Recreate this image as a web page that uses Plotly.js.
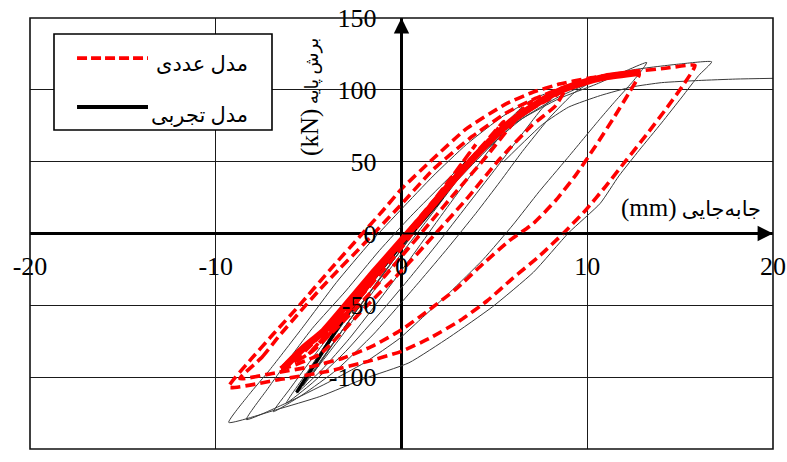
<!DOCTYPE html>
<html>
<head>
<meta charset="utf-8">
<script src="https://cdn.plot.ly/plotly-3.0.1.min.js"></script>
<style>html,body{margin:0;padding:0;background:#fff;}#chart{width:787px;height:462px;}</style>
</head>
<body>
<div id="chart"></div>
<script>
// ---- axis ticks ----
const xTicks = [-20, -10, 0, 10, 20];
const yTicks = [-150, -100, -50, 0, 50, 100, 150];

// ---- legend / titles ----
const numName = 'مدل عددی';
const expName = 'مدل تجربی';
const xTitleUnit = '(mm)';
const xTitleWord = 'جابه‌جایی';
const yTitleUnit = '(kN)';
const yTitleWord = 'برش پایه';

// ---- experimental (thin) loops ----
const expE1X = [-9.3,-8.2,-7.1,-5.3,-3.5,-1.7,0,1.7,3.5,5.5,7.5,10,12.5,15,16.7,16,15.1,14,12.8,11.7,10.7,9,7.1,4.9,2.6,0.4,-2,-4.4,-6.7,-9.3];
const expE1Y = [-131.5,-112,-95,-65,-34,-6.5,17,40,62,82,96,106,114,118,119.5,110,95,77,58,40,21,0.5,-27,-51,-72,-90,-101,-113.5,-122.5,-131.5];
const expE2X = [-8.35,-7.2,-6.2,-4.8,-3,-1.2,0.5,2.5,4.5,6.5,8.5,10.5,13.2,12.9,12.4,11.5,10.7,8.9,7.4,6,4.4,2.6,1,-0.1,-2,-4,-6.2,-8.35];
const expE2Y = [-129.5,-108,-90,-66,-40,-12,12,38,62,80,94,104,119,113,105,92,80,52,29,6,-18,-41,-60,-73,-90,-104,-118,-129.5];
const expE3X = [-6.9,-6,-4.7,-3,-1.2,0.5,2.5,4.5,6.5,8.3,10,9.3,8,6.5,5.3,4,2.5,1,0,-1.5,-3.5,-5.3,-6.9];
const expE3Y = [-124,-108,-85,-56,-27,2,32,58,80,94,104,98,81,57,36,14,-10,-33,-48,-70,-95,-112,-124];
const expE4X = [-6.2,-5,-3.5,-1.5,0.5,2.5,4.5,6.3,8.3,7.5,6.3,5,3.5,2,0.5,-1,-3,-4.8,-6.2];
const expE4Y = [-118,-95,-66,-33,0,30,57,79,97,86,66,44,19,-6,-30,-53,-82,-104,-118];
const expE5X = [-5.65,-4.4,-3,-1.5,0,2,4,6.5,5.8,4.6,3.3,2,0.5,-1,-2.8,-4.3,-5.65];
const expE5Y = [-111,-86,-60,-33,-6,26,56,88,76,56,33,10,-17,-43,-73,-95,-111];
const expE6X = [-5.3,-4,-2.5,-0.8,1,3,5,4.2,3,1.6,0,-1.5,-3.2,-5.3];
const expE6Y = [-106,-82,-55,-25,6,38,70,57,37,13,-14,-40,-71,-106];
const expE7X = [-4.8,-3,-1,1,3,4,3,1.5,0,-1.8,-3.5,-4.8];
const expE7Y = [-98,-64,-28,6,40,56,39,15,-11,-43,-73,-98];
const expPushX = [5.5,7.6,9,10.7,12.4,14,16,18,20];
const expPushY = [50,76,88,96,102,105,106.5,107.5,108];
const expBoldX = [-5.65,-4.4,-3.5,-2,0,2,3.5];
const expBoldY = [-110.6,-85.6,-67,-40,-8,22,50];

// ---- numerical (red dashed) loops ----
const numR1X = [-9.3,-8.2,-6.9,-5.5,-3.9,-2.1,-1,0,1.7,3.5,5.6,7,8.5,10,12.4,14.2,15.8,15.2,14.2,13.2,12.1,11,9.9,8.7,7.4,6,4.6,3.1,1.5,0,-1.8,-4,-6.5,-9.3];
const numR1Y = [-107,-89,-70,-50,-26,0,16,31,52,73,90,98,104,108,112.5,115,117,104,86,69,51,33,16,0,-16,-31,-47,-61,-73,-82,-89,-96,-101.5,-107];
const numR2X = [-8.7,-7.5,-6.6,-5.5,-4.4,-3.3,-2.3,-1.2,-0.1,1.7,3.8,5.65,7.2,8.8,10.8,12.8,12.3,11.4,10.4,9.4,8.3,7.1,5.8,4.4,2.9,1.4,0,-1.5,-3.2,-5,-6.8,-8.7];
const numR2Y = [-101,-86,-71.5,-55,-39,-24,-11,4,19,44.5,67.5,84,94,102,108,111,99,80,60,41,23,7,-5,-21,-39,-54,-67,-78,-87,-93,-97,-101];
const numR3X = [-6.6,-5.3,-3.7,-2,0,2,3.5,5.3,6.5,8.3,8.8,8.3,7,5.3,3.5,1.7,0,-2,-4.4,-6.6];
const numR3Y = [-95,-81,-64,-38,-6,24,47,70,83,96,100,89,75,52,24,-2,-26,-52,-84,-95];
const numR4X = [-5.8,-4.5,-3,-1.5,0,2,3.5,5,7,6.2,4.6,3,1.5,0,-1.8,-3.5,-4.8,-5.8];
const numR4Y = [-90,-73,-52,-28,-5,26,48,68,92,80,54,30,7,-16,-43,-66,-82,-90];
const numR5X = [-5,-3.5,-1.8,0,2,3.8,5.5,4.5,3,1.5,0,-1.8,-3.5,-5];
const numR5Y = [-84,-62,-34,-4,27,53,78,62,40,16,-10,-38,-63,-84];
const numR6X = [-4,-2,0,2,4,2.8,1.2,-0.5,-2.2,-4];
const numR6Y = [-72,-40,-6,27,62,41,14,-14,-44,-72];
const numCoreX = [-6.3,-5.3,-4.2,-3,-1.5,0,1.5,3,4.5,5.8,7,8.3,9.5,11,12.8];
const numCoreY = [-93,-80,-68,-50,-27,-5,17,40,61,77,88,98,104,109,112];

const expLine = {color: '#3a3a3a', width: 1, shape: 'spline', smoothing: 0.5};
const numLine = {color: '#ff0000', width: 3.6, dash: '10px,5px', shape: 'spline', smoothing: 0.5};
function tr(x, y, line, name) {
  return {x: x, y: y, type: 'scatter', mode: 'lines', line: line, name: name, showlegend: false, hoverinfo: 'skip'};
}
const traces = [
  tr(expE1X, expE1Y, expLine, expName),
  tr(expE2X, expE2Y, expLine, expName),
  tr(expE3X, expE3Y, expLine, expName),
  tr(expE4X, expE4Y, expLine, expName),
  tr(expE5X, expE5Y, expLine, expName),
  tr(expE6X, expE6Y, expLine, expName),
  tr(expE7X, expE7Y, expLine, expName),
  tr(expPushX, expPushY, expLine, expName),
  tr(expBoldX, expBoldY, {color: '#000', width: 3.5, shape: 'spline', smoothing: 0.5}, expName),
  tr(numR1X, numR1Y, numLine, numName),
  tr(numR2X, numR2Y, numLine, numName),
  tr(numR3X, numR3Y, numLine, numName),
  tr(numR4X, numR4Y, numLine, numName),
  tr(numR5X, numR5Y, numLine, numName),
  tr(numR6X, numR6Y, numLine, numName),
  tr(numCoreX, numCoreY, {color: '#ff0000', width: 7, shape: 'spline', smoothing: 0.5}, numName)
];

const serif = 'Liberation Serif, Times New Roman, DejaVu Sans';
const axisCommon = {
  anchor: 'free', position: 0.5, showgrid: true, gridcolor: '#1a1a1a', gridwidth: 1.3,
  zeroline: true, zerolinecolor: '#000', zerolinewidth: 2.2, showline: false, ticks: '',
  tickfont: {family: serif, size: 26, color: '#000'}, fixedrange: true, automargin: false
};
const layout = {
  width: 787, height: 462,
  margin: {l: 30, r: 14, t: 18, b: 13, pad: 0},
  paper_bgcolor: '#fff', plot_bgcolor: '#fff',
  showlegend: false,
  xaxis: Object.assign({}, axisCommon, {range: [-20, 20], tickvals: xTicks, ticktext: xTicks.map(String), ticklabelstandoff: 14}),
  yaxis: Object.assign({}, axisCommon, {range: [-150, 150], tickvals: yTicks, ticktext: yTicks.map(String), ticklabelstandoff: 25}),
  shapes: [
    {type: 'rect', xref: 'paper', yref: 'paper', x0: 0, x1: 1, y0: 0, y1: 1, line: {color: '#111', width: 1.6}, fillcolor: 'rgba(0,0,0,0)', layer: 'above'},
    {type: 'rect', xref: 'paper', yref: 'paper', x0: 0.0323, x1: 0.3257, y0: 0.740, y1: 0.963, line: {color: '#000', width: 1.6}, fillcolor: '#fff', layer: 'above'},
    {type: 'line', xref: 'paper', yref: 'paper', x0: 0.0633, x1: 0.1588, y0: 0.907, y1: 0.907, line: {color: '#ff0000', width: 3.6, dash: '10px,4px'}, layer: 'above'},
    {type: 'line', xref: 'paper', yref: 'paper', x0: 0.0633, x1: 0.1588, y0: 0.7935, y1: 0.7935, line: {color: '#000', width: 3.8}, layer: 'above'}
  ],
  annotations: [
    {xref: 'paper', yref: 'paper', x: 0.296, y: 0.893, xanchor: 'right', yanchor: 'middle', showarrow: false, text: numName, font: {family: serif, size: 21, color: '#000'}},
    {xref: 'paper', yref: 'paper', x: 0.296, y: 0.775, xanchor: 'right', yanchor: 'middle', showarrow: false, text: expName, font: {family: serif, size: 21, color: '#000'}},
    {xref: 'paper', yref: 'paper', x: 0.9865, y: 0.559, xanchor: 'right', yanchor: 'middle', showarrow: false,
     text: '<span style="font-size:25px">' + xTitleUnit + '</span> ' + xTitleWord, font: {family: serif, size: 21, color: '#000'}},
    {xref: 'paper', yref: 'paper', x: 0.3769, y: 0.817, xanchor: 'center', yanchor: 'middle', showarrow: false, textangle: -90,
     text: '<span style="font-size:25px">' + yTitleUnit + '</span> ' + yTitleWord, font: {family: serif, size: 18, color: '#000'}},
    {xref: 'x', yref: 'y', x: 0, y: 150, axref: 'x', ayref: 'y', ax: 0, ay: 0, showarrow: true, arrowhead: 2, arrowsize: 1.4, arrowwidth: 2.2, arrowcolor: '#000', text: ''},
    {xref: 'x', yref: 'y', x: 20, y: 0, axref: 'x', ayref: 'y', ax: 0, ay: 0, showarrow: true, arrowhead: 2, arrowsize: 1.4, arrowwidth: 2.2, arrowcolor: '#000', text: ''}
  ]
};
Plotly.newPlot('chart', traces, layout, {staticPlot: true, displayModeBar: false});
</script>
</body>
</html>
